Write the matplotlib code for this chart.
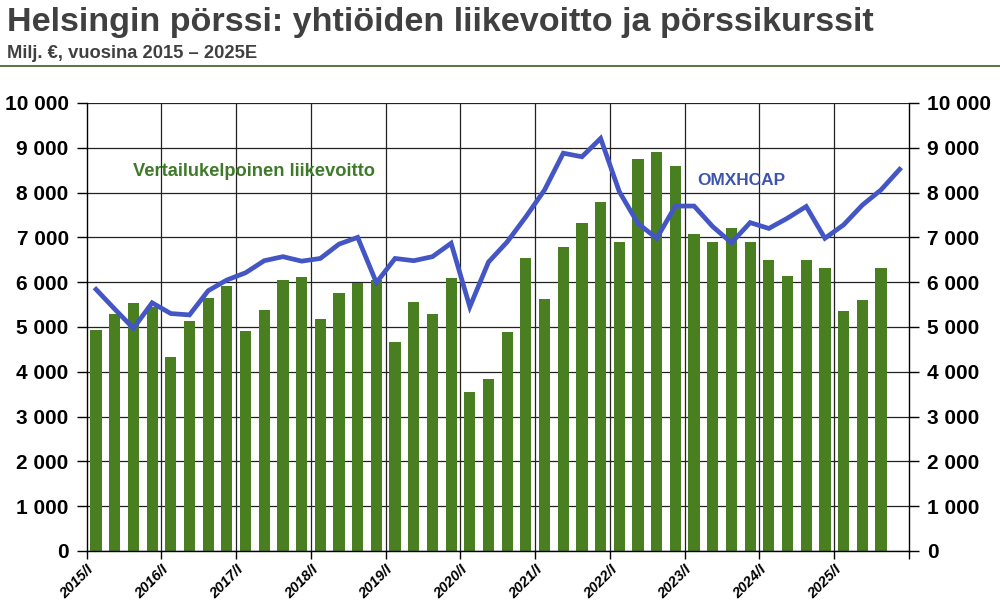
import numpy as np
import matplotlib
matplotlib.use('Agg')
import matplotlib.pyplot as plt

plt.rcParams['font.family'] = ['Liberation Sans', 'DejaVu Sans']

years = list(range(2015, 2026))
year_labels = [f'{y}/I' for y in years]

# comparable operating profit per quarter (2015Q1 .. 2025Q3)
profit = [4930, 5300, 5530, 5450, 4320, 5130, 5650, 5910,
          4920, 5390, 6060, 6110, 5180, 5770, 5980, 6050,
          4660, 5550, 5300, 6090, 3550, 3840, 4880, 6530,
          5630, 6790, 7330, 7780, 6890, 8740, 8900, 8590,
          7070, 6900, 7200, 6900, 6490, 6140, 6500, 6320,
          5350, 5610, 6320]

# OMXHCAP index (2015Q1 .. 2025Q4)
omxhcap = [5840, 5400, 4970, 5540, 5300, 5270, 5810, 6050,
           6210, 6480, 6570, 6470, 6530, 6850, 7000, 5990,
           6530, 6480, 6570, 6870, 5450, 6450, 6900, 7460,
           8060, 8880, 8800, 9210, 8020, 7310, 6980, 7700,
           7700, 7240, 6880, 7330, 7200, 7430, 7690, 6980,
           7280, 7720, 8060, 8520]

green = '#4a7f21'
blue = '#4455c4'

fig = plt.figure(figsize=(10, 6.12), dpi=100)
ax = fig.add_axes([0.0867, 1 - 551 / 612, 0.9090 - 0.0867, (551 - 103) / 612])

x_bar = np.arange(len(profit))
x_line = np.arange(len(omxhcap))
ax.bar(x_bar, profit, width=0.6, color=green, zorder=2)
ax.plot(x_line, omxhcap, color=blue, lw=3.4, zorder=3, solid_joinstyle='miter')

ax.set_xlim(-0.5, 43.5)
ax.set_ylim(0, 10000)

yt = np.arange(0, 10001, 1000)
ax.set_yticks(yt)
ax.set_yticklabels(['0' if v == 0 else f'{v // 1000} 000' for v in yt])
ax.yaxis.grid(True, color='#222222', lw=0.9, zorder=1)

xt = np.arange(len(years) + 1) * 4 - 0.5
ax.set_xticks(xt)
ax.set_xticklabels(year_labels + [''])
for v in xt[1:-1]:
    ax.axvline(v, color='#222222', lw=0.9, zorder=1)

ax.tick_params(axis='y', which='both', left=True, right=True, labelleft=True,
               labelright=True, direction='out', length=7, width=1,
               labelsize=15, pad=6)
ax.tick_params(axis='x', direction='out', length=6, width=1, pad=2)
for lbl in ax.get_yticklabels():
    lbl.set_fontweight('bold')
for lbl in ax.get_xticklabels():
    lbl.set_fontweight('bold')
    lbl.set_fontstyle('italic')
    lbl.set_fontsize(10.5)
    lbl.set_rotation(45)
    lbl.set_ha('right')
    lbl.set_va('top')
    lbl.set_rotation_mode('anchor')

for side in ['left', 'right', 'bottom']:
    ax.spines[side].set_color('black')
    ax.spines[side].set_linewidth(1)
ax.spines['top'].set_visible(False)

ax.text(0.0565, 0.847, 'Vertailukelpoinen liikevoitto', transform=ax.transAxes,
        color='#3f7a2a', fontsize=13.2, fontweight='bold', va='center', ha='left')
ax.text(0.743, 0.827, 'OMXHCAP', transform=ax.transAxes,
        color='#3d55b0', fontsize=12.4, fontweight='bold', va='center', ha='left')

fig.text(0.007, 1 - 23 / 612, 'Helsingin pörssi: yhtiöiden liikevoitto ja pörssikurssit',
         fontsize=24.6, fontweight='bold', color='#404040', va='center', ha='left')
fig.text(0.007, 1 - 53 / 612, 'Milj. €, vuosina 2015 – 2025E',
         fontsize=13.2, fontweight='bold', color='#404040', va='center', ha='left')
fig.add_artist(plt.Line2D([0, 1], [1 - 66 / 612, 1 - 66 / 612],
                          transform=fig.transFigure, color='#4a6b3a', lw=1.3))

fig.savefig('out.png', dpi=100)
